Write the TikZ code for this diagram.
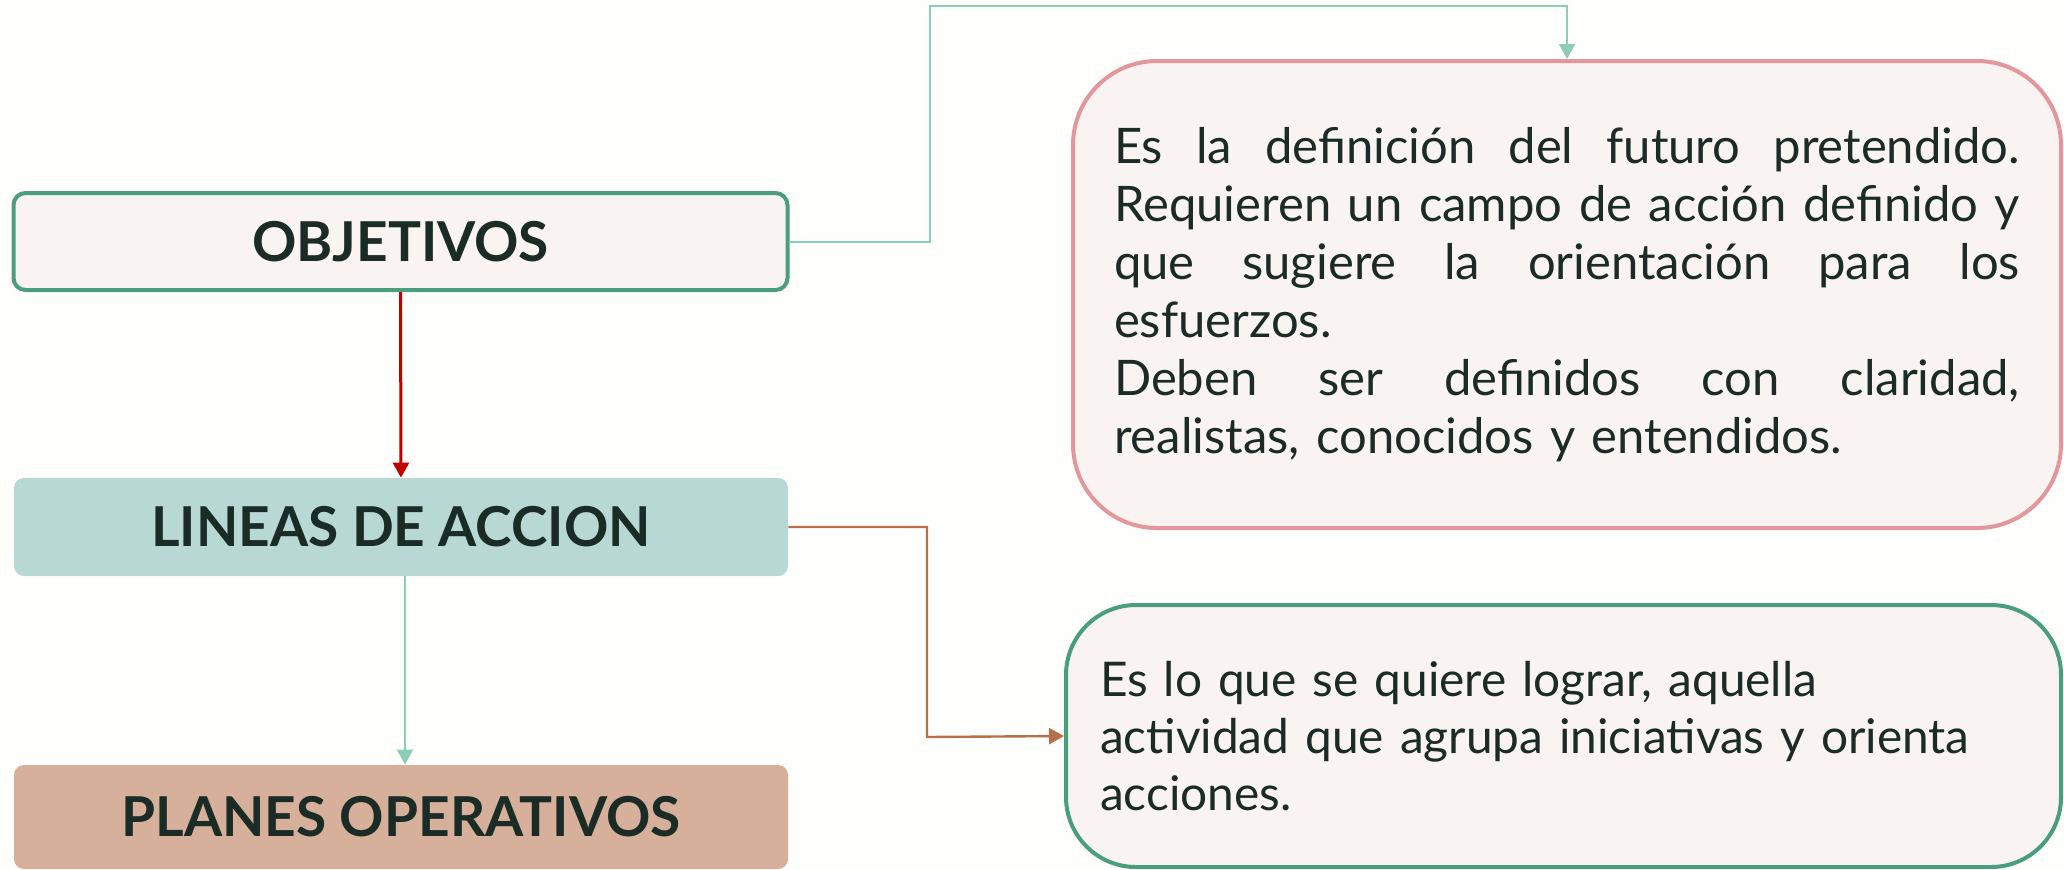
\documentclass[tikz,border=0pt]{standalone}
\usepackage{fontspec}
\setmainfont{Lato}
\usetikzlibrary{arrows.meta}
\setlength{\parindent}{0pt}
\definecolor{bg}{HTML}{FEFEFD}
\definecolor{greenb}{HTML}{4A9E7E}
\definecolor{pinkb}{HTML}{E3979C}
\definecolor{lightf}{HTML}{F9F3F2}
\definecolor{tealf}{HTML}{B7D8D3}
\definecolor{brownf}{HTML}{D6B09A}
\definecolor{txt}{HTML}{1B2B25}
\definecolor{tealline}{HTML}{8ECDB5}
\definecolor{redline}{HTML}{C00000}
\definecolor{brownline}{HTML}{B5704A}
\newcommand{\jline}[1]{{\spaceskip=.3333em plus 30em\xspaceskip=.3333em plus 30em\makebox[453pt][s]{#1}}}
\tikzset{
  lbl/.style={font=\fontsize{27.5}{32}\selectfont\bfseries, text=txt, minimum width=387pt, inner sep=0pt},
  conn/.style={-{Triangle[length=7.5pt,width=8pt]}},
}
\begin{document}
\begin{tikzpicture}[x=0.5pt,y=-0.5pt]
\fill[bg] (0,0) rectangle (2064,869);
\useasboundingbox (0,0) rectangle (2064,869);
% left column
\node[lbl, draw=greenb, line width=2pt, fill=lightf, rounded corners=6pt, minimum height=48.5pt] (obj) at (400.5,241.5) {OBJETIVOS};
\node[lbl, fill=tealf, rounded corners=5pt, minimum height=49pt] (lin) at (401,527) {LINEAS DE ACCION};
\node[lbl, fill=brownf, rounded corners=5pt, minimum height=52pt] (plan) at (401,817) {PLANES OPERATIVOS};
% right boxes
\node[font=\fontsize{24.5}{29}\selectfont, text=txt, draw=pinkb, line width=2pt, fill=lightf, rounded corners=42pt, minimum width=494pt, minimum height=233.5pt, text width=453pt, inner xsep=20.5pt, align=left] (tr) at (1567,294.5) {%
\jline{Es la definición del futuro pretendido.}\\
\jline{Requieren un campo de acción definido y}\\
\jline{que sugiere la orientación para los}\\
esfuerzos.\\
\jline{Deben ser definidos con claridad,}\\
realistas, conocidos y entendidos.};
\node[font=\fontsize{23.9}{28.3}\selectfont, text=txt, draw=greenb, line width=2pt, fill=lightf, rounded corners=35pt, minimum width=497.5pt, minimum height=131pt, text width=463.5pt, inner xsep=17pt, align=left] (br) at (1563.5,736) {%
Es lo que se quiere lograr, aquella\\
actividad que agrupa iniciativas y orienta\\
acciones.};
% connectors
\coordinate (c1) at (930,6);
\coordinate (c2) at (927,737);
\draw[conn, tealline, line width=1pt] (obj.east) -| (c1) -| (tr.north);
\draw[conn, redline, line width=1.5pt] (obj.south) -- (lin.north);
\draw[conn, tealline, line width=1pt] ([xshift=2pt]lin.south) -- ([xshift=2pt]plan.north);
\draw[conn, brownline, line width=1.2pt] (lin.east) -| (c2) -- (br.west);
\end{tikzpicture}
\end{document}
